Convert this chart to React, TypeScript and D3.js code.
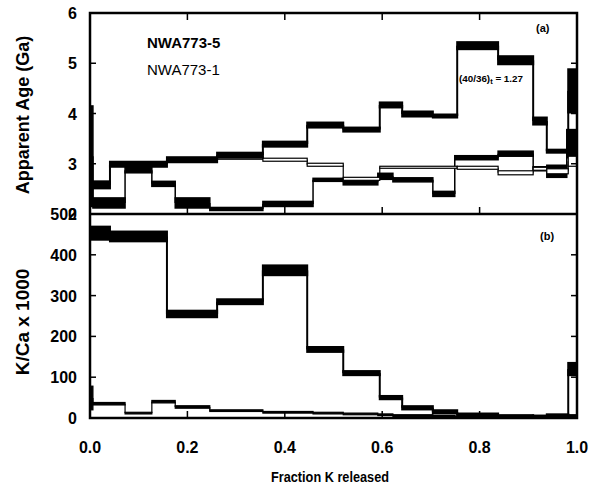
import React from 'react';
import * as d3 from 'd3';

// tick values
const fracTicks = [0, 0.2, 0.4, 0.6, 0.8, 1.0];
const ageTicks = [2, 3, 4, 5, 6];
const kcaTicks = [0, 100, 200, 300, 400, 500];

// NWA773-5 (thick spectrum)
const nwa5Edges = [0, 0.041, 0.158, 0.261, 0.355, 0.446, 0.52, 0.595, 0.641, 0.704, 0.754, 0.838, 0.91, 0.938, 0.982, 1.0];
const nwa5Age = [2.58, 2.99, 3.08, 3.17, 3.39, 3.77, 3.68, 4.17, 3.99, 3.95, 5.35, 5.06, 3.85, 3.25, 4.45];
const nwa5AgeErr = [0.07, 0.05, 0.05, 0.05, 0.05, 0.05, 0.04, 0.05, 0.05, 0.03, 0.07, 0.08, 0.07, 0.03, 0.43];
const nwa5KCa = [453, 445, 255, 285, 362, 168, 110, 50, 25, 15, 8, 5, 4, 6, 120];
const nwa5KCaErr = [16, 12, 8, 6, 12, 6, 5, 4, 4, 4, 3, 2, 2, 3, 15];

// NWA773-1
const nwa1Edges = [0, 0.006, 0.072, 0.127, 0.175, 0.246, 0.355, 0.458, 0.52, 0.591, 0.622, 0.704, 0.749, 0.838, 0.91, 0.938, 0.979, 1.0];
const nwa1Age = [3.15, 2.22, 2.87, 2.6, 2.22, 2.1, 2.2, 2.68, 2.63, 2.75, 2.68, 2.4, 3.12, 3.2, 2.9, 2.85, 3.4];
const nwa1AgeErr = [1.0, 0.1, 0.05, 0.05, 0.1, 0.03, 0.05, 0.03, 0.05, 0.06, 0.04, 0.05, 0.04, 0.05, 0.04, 0.12, 0.28];
const nwa1KCa = [49, 35, 12, 40, 27, 18, 14, 12, 10, 8, 6, 4, 3, 3, 3, 3, 5];
const nwa1KCaErr = [29, 3, 2, 3, 3, 2, 2, 2, 2, 2, 2, 2, 2, 2, 2, 2, 3];

// second (thin, open) age trace
const openEdges = [0.261, 0.355, 0.446, 0.52, 0.595, 0.754, 0.838, 0.91, 0.938, 0.982, 1.0];
const openAge = [3.12, 3.08, 2.98, 2.7, 2.93, 2.92, 2.82, 2.9, 2.85, 3.05];
const openAgeErr = [0.03, 0.03, 0.03, 0.03, 0.02, 0.03, 0.04, 0.03, 0.05, 0.1];

const left = 90, right = 577, top = 13, mid = 214, bottom = 418;

const x = d3.scaleLinear().domain([0, 1]).range([left, right]);
const yAge = d3.scaleLinear().domain([2, 6]).range([mid, top]);
const yK = d3.scaleLinear().domain([0, 500]).range([bottom, mid]);

const font = '"Liberation Sans", Arial, sans-serif';

function Spectrum({edges, vals, errs, y, fill, sw}: any) {
    return (
        <g>
            {vals.slice(1).map((v: number, i: number) => (
                <line key={'j' + i} x1={x(edges[i + 1])} x2={x(edges[i + 1])}
                      y1={y(vals[i])} y2={y(v)} stroke="#000" strokeWidth={sw}/>
            ))}
            {vals.map((v: number, i: number) => (
                <rect key={'b' + i} x={x(edges[i])} width={x(edges[i + 1]) - x(edges[i])}
                      y={y(v + errs[i])} height={Math.max(0.5, y(v - errs[i]) - y(v + errs[i]))}
                      fill={fill} stroke="#000" strokeWidth={sw}/>
            ))}
        </g>
    );
}

function App() {
    const inner = fracTicks.slice(1, -1);
    return (
        <svg width={600} height={492} style={{position: 'absolute', left: 0, top: 0, background: '#fff'}}
             fontFamily={font}>
            <rect width={600} height={492} fill="#fff"/>

            {/* top panel */}
            <g clipPath="url(#clipA)">
                <Spectrum edges={nwa1Edges} vals={nwa1Age} errs={nwa1AgeErr} y={yAge} fill="#000" sw={1.5}/>
                <Spectrum edges={openEdges} vals={openAge} errs={openAgeErr} y={yAge} fill="#fff" sw={1.2}/>
                <Spectrum edges={nwa5Edges} vals={nwa5Age} errs={nwa5AgeErr} y={yAge} fill="#000" sw={2}/>
            </g>
            {/* bottom panel */}
            <g clipPath="url(#clipB)">
                <Spectrum edges={nwa1Edges} vals={nwa1KCa} errs={nwa1KCaErr} y={yK} fill="#000" sw={1.2}/>
                <Spectrum edges={nwa5Edges} vals={nwa5KCa} errs={nwa5KCaErr} y={yK} fill="#000" sw={2}/>
            </g>
            <defs>
                <clipPath id="clipA"><rect x={left} y={top} width={right - left} height={mid - top}/></clipPath>
                <clipPath id="clipB"><rect x={left} y={mid} width={right - left} height={bottom - mid}/></clipPath>
            </defs>

            {/* frames */}
            <rect x={left} y={top} width={right - left} height={bottom - top} fill="none" stroke="#000" strokeWidth={2.5}/>
            <line x1={left} x2={right} y1={mid} y2={mid} stroke="#000" strokeWidth={2.5}/>

            {/* x ticks */}
            {inner.map(t => (
                <g key={'xt' + t} stroke="#000" strokeWidth={1.5}>
                    <line x1={x(t)} x2={x(t)} y1={top} y2={top + 7}/>
                    <line x1={x(t)} x2={x(t)} y1={mid} y2={mid - 7}/>
                    <line x1={x(t)} x2={x(t)} y1={bottom} y2={bottom - 7}/>
                </g>
            ))}
            {ageTicks.slice(1, -1).map(t => (
                <g key={'at' + t} stroke="#000" strokeWidth={1.5}>
                    <line x1={left} x2={left + 6} y1={yAge(t)} y2={yAge(t)}/>
                    <line x1={right} x2={right - 6} y1={yAge(t)} y2={yAge(t)}/>
                </g>
            ))}
            {kcaTicks.slice(1, -1).map(t => (
                <g key={'kt' + t} stroke="#000" strokeWidth={1.5}>
                    <line x1={left} x2={left + 6} y1={yK(t)} y2={yK(t)}/>
                    <line x1={right} x2={right - 6} y1={yK(t)} y2={yK(t)}/>
                </g>
            ))}

            {/* tick labels */}
            <g fontSize={16} fontWeight="bold" fill="#000">
                {fracTicks.map(t => (
                    <text key={'xl' + t} x={x(t)} y={453} textAnchor="middle">{t.toFixed(1)}</text>
                ))}
                {ageTicks.map(t => (
                    <text key={'al' + t} x={77} y={yAge(t) + 6} textAnchor="end">{t}</text>
                ))}
                {kcaTicks.map(t => (
                    <text key={'kl' + t} x={77} y={yK(t) + 6} textAnchor="end">{t}</text>
                ))}
            </g>

            {/* axis titles */}
            <text x={330} y={482} textAnchor="middle" fontSize={15} fontWeight="bold"
                  textLength={118} lengthAdjust="spacingAndGlyphs">Fraction K released</text>
            <text transform="translate(29,115) rotate(-90)" textAnchor="middle" fontSize={18} fontWeight="bold">Apparent Age (Ga)</text>
            <text transform="translate(29,322) rotate(-90)" textAnchor="middle" fontSize={19} fontWeight="bold">K/Ca x 1000</text>

            {/* annotations */}
            <text x={147} y={48} fontSize={15} fontWeight="bold">NWA773-5</text>
            <text x={147} y={75} fontSize={15}>NWA773-1</text>
            <text x={536} y={32} fontSize={11} fontWeight="bold">(a)</text>
            <text x={540} y={240} fontSize={11} fontWeight="bold">(b)</text>
            <text x={459} y={82} fontSize={8.5} fontWeight="bold" textLength={64} lengthAdjust="spacingAndGlyphs">
                (40/36)<tspan fontSize={6.5} dy={2}>t</tspan><tspan dy={-2}> = 1.27</tspan>
            </text>
        </svg>
    );
}

export default App;
